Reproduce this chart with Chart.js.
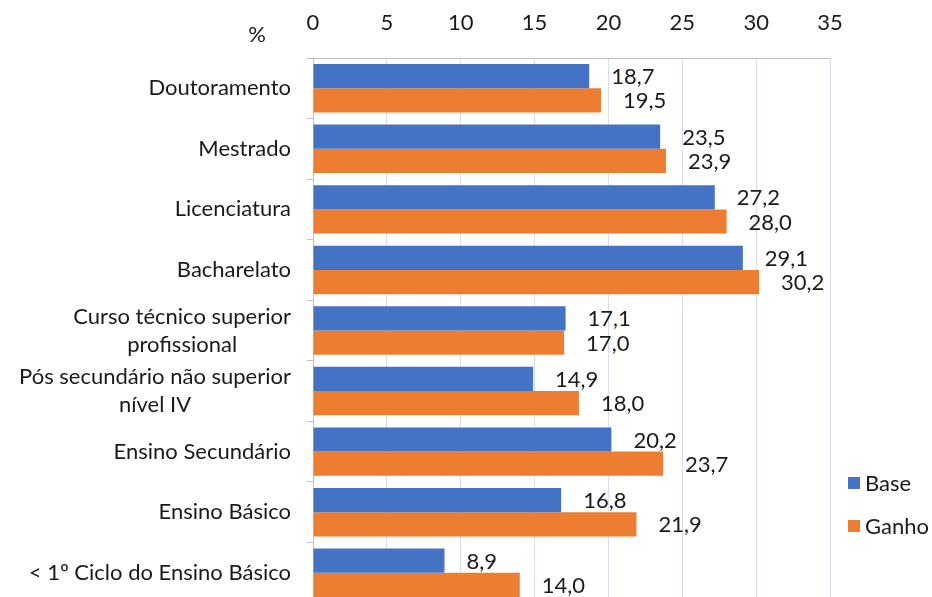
<!DOCTYPE html>
<html>
<head>
<meta charset="utf-8">
<script src="https://cdn.jsdelivr.net/npm/chart.js@4"></script>
<style>
  html, body { margin: 0; padding: 0; background: #fff; overflow: hidden; }
</style>
</head>
<body>
<canvas id="myChart" width="932" height="603"></canvas>
<script>
const categories = [
  "Doutoramento",
  "Mestrado",
  "Licenciatura",
  "Bacharelato",
  ["Curso técnico superior", "profissional"],
  ["Pós secundário não superior", "nível IV"],
  "Ensino Secundário",
  "Ensino Básico",
  "< 1º Ciclo do Ensino Básico",
];
const baseValues = [18.7, 23.5, 27.2, 29.1, 17.1, 14.9, 20.2, 16.8, 8.9];
const ganhoValues = [19.5, 23.9, 28.0, 30.2, 17.0, 18.0, 23.7, 21.9, 14.0];
const xTicks = [0, 5, 10, 15, 20, 25, 30, 35];
const seriesNames = ["Base", "Ganho"];

const FONT = "Lato";
const SIZE = 22;
const TEXT = "#1a1a1a";
const fmt = (v) => v.toFixed(1).replace(".", ",");

// value labels next to each bar
const valueLabels = {
  id: "valueLabels",
  afterDatasetsDraw(chart) {
    const ctx = chart.ctx;
    ctx.save();
    ctx.font = `${SIZE}px ${FONT}`;
    ctx.fillStyle = TEXT;
    ctx.textAlign = "left";
    ctx.textBaseline = "middle";
    chart.data.datasets.forEach((ds, di) => {
      const meta = chart.getDatasetMeta(di);
      meta.data.forEach((bar, i) => {
        ctx.fillText(fmt(ds.data[i]), bar.x + 22, bar.y + 1);
      });
    });
    ctx.restore();
  },
};

// category labels: right aligned block, lines centered inside it
const categoryLabels = {
  id: "categoryLabels",
  afterDraw(chart) {
    const ctx = chart.ctx;
    const yScale = chart.scales.y;
    ctx.save();
    ctx.font = `${SIZE}px ${FONT}`;
    ctx.fillStyle = TEXT;
    ctx.textAlign = "center";
    ctx.textBaseline = "middle";
    const right = yScale.right - 22;
    const lh = 28;
    categories.forEach((label, i) => {
      const lines = Array.isArray(label) ? label : [label];
      const w = Math.max(...lines.map((l) => ctx.measureText(l).width));
      const cx = right - w / 2;
      const y0 = yScale.getPixelForTick(i) - ((lines.length - 1) * lh) / 2;
      lines.forEach((l, k) => ctx.fillText(l, cx, y0 + k * lh));
    });

    // unit label
    ctx.fillText("%", 257, 35);

    // legend
    const colors = chart.data.datasets.map((d) => d.backgroundColor);
    const rows = [483, 526];
    ctx.textAlign = "left";
    seriesNames.forEach((name, i) => {
      ctx.fillStyle = colors[i];
      ctx.fillRect(848, rows[i] - 6, 12, 12);
      ctx.fillStyle = TEXT;
      ctx.fillText(name, 865, rows[i] + 1);
    });
    ctx.restore();
  },
};

const ctx = document.getElementById("myChart").getContext("2d");
new Chart(ctx, {
  type: "bar",
  data: {
    labels: categories,
    datasets: [
      {
        label: seriesNames[0],
        data: baseValues,
        backgroundColor: "#4472C4",
        categoryPercentage: 0.8,
        barPercentage: 1.0,
      },
      {
        label: seriesNames[1],
        data: ganhoValues,
        backgroundColor: "#ED7D31",
        categoryPercentage: 0.8,
        barPercentage: 1.0,
      },
    ],
  },
  options: {
    indexAxis: "y",
    responsive: false,
    devicePixelRatio: 1,
    animation: false,
    layout: { padding: { left: 0, right: 102, top: 0, bottom: 0 } },
    plugins: {
      legend: { display: false },
      tooltip: { enabled: false },
    },
    scales: {
      x: {
        position: "top",
        min: 0,
        max: 35,
        afterBuildTicks: (scale) => {
          scale.ticks = xTicks.map((v) => ({ value: v }));
        },
        afterFit: (scale) => {
          scale.height = 58;
        },
        ticks: {
          color: TEXT,
          font: { family: FONT, size: SIZE },
          padding: 22,
        },
        grid: {
          color: "#D6DFF0",
          drawTicks: false,
        },
        border: { color: "#BFBFBF" },
      },
      y: {
        afterFit: (scale) => {
          scale.width = 313;
        },
        ticks: { display: false },
        grid: {
          offset: true,
          drawOnChartArea: false,
          tickLength: 6,
          color: "#BFBFBF",
        },
        border: { color: "#BFBFBF" },
      },
    },
  },
  plugins: [valueLabels, categoryLabels],
});
</script>
</body>
</html>
